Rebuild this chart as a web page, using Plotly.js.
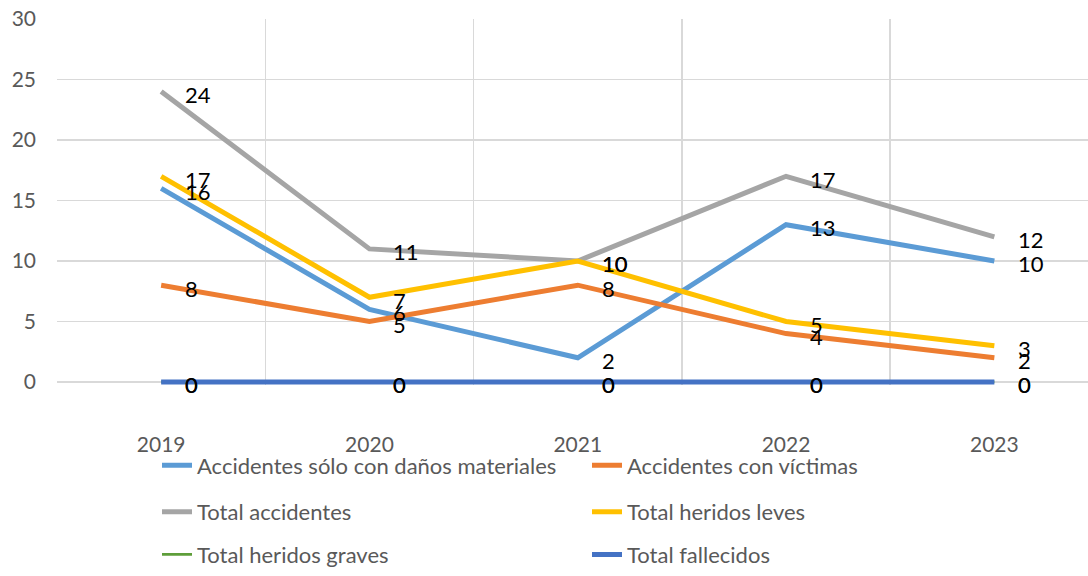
<!DOCTYPE html>
<html>
<head>
<meta charset="utf-8">
<script src="https://cdn.plot.ly/plotly-3.0.1.min.js"></script>
<style>html,body{margin:0;padding:0;background:#fff;overflow:hidden}#chart{width:1088px;height:576px}</style>
</head>
<body>
<div id="chart"></div>
<script>
const years = ['2019', '2020', '2021', '2022', '2023'];
const seriesNames = [
  'Accidentes sólo con daños materiales',
  'Accidentes con víctimas',
  'Total accidentes',
  'Total heridos leves',
  'Total heridos graves',
  'Total fallecidos'
];
const danosMateriales = [16, 6, 2, 13, 10];
const conVictimas = [8, 5, 8, 4, 2];
const totalAccidentes = [24, 11, 10, 17, 12];
const heridosLeves = [17, 7, 10, 5, 3];
const heridosGraves = [0, 0, 0, 0, 0];
const fallecidos = [0, 0, 0, 0, 0];
const yTicks = [0, 5, 10, 15, 20, 25, 30];

const values = [danosMateriales, conVictimas, totalAccidentes, heridosLeves, heridosGraves, fallecidos];
const colors = ['#5B9BD5', '#ED7D31', '#A5A5A5', '#FFC000', '#5E9E3A', '#4472C4'];
const widths = [5, 5, 5, 5, 2.75, 5];
const FONT = 'Lato, "Open Sans", sans-serif';

const plotL = 57, plotR = 1088, plotT = 19, plotB = 388;
const pw = plotR - plotL, ph = plotB - plotT;
const yMin = -0.25;
const legPix = [[157, 469], [587, 469], [157, 516], [587, 516], [157, 559], [587, 559]];

const traces = values.map((v, i) => ({
  type: 'scatter',
  mode: 'lines',
  x: years,
  y: v,
  name: seriesNames[i],
  legend: i === 0 ? 'legend' : 'legend' + (i + 1),
  line: {color: colors[i], width: widths[i]},
  hoverinfo: 'skip'
}));

// data labels: category index j on the category axis
const annotations = [];
values.forEach((v, i) => {
  v.forEach((val, j) => {
    annotations.push({
      x: j, y: val, xref: 'x', yref: 'y',
      text: String(val), showarrow: false,
      xanchor: 'left', yanchor: 'middle',
      xshift: 22, yshift: -3,
      font: {family: FONT, size: 22, color: '#000000'}
    });
  });
});

const layout = {
  width: 1088,
  height: 576,
  margin: {l: plotL, r: 0, t: plotT, b: 576 - plotB},
  paper_bgcolor: '#ffffff',
  plot_bgcolor: '#ffffff',
  font: {family: FONT, size: 21, color: '#595959'},
  showlegend: true,
  annotations: annotations,
  xaxis: {
    type: 'category',
    range: [-0.5, -0.5 + pw / 208.3],
    tickson: 'boundaries',
    showgrid: true,
    gridcolor: '#d9d9d9',
    gridwidth: 1.5,
    ticks: '',
    showline: false,
    zeroline: false,
    ticklabelstandoff: 45,
    tickfont: {family: FONT, size: 21, color: '#595959'},
    fixedrange: true
  },
  yaxis: {
    range: [yMin, 30],
    tickvals: yTicks,
    ticktext: yTicks.map(String),
    showgrid: true,
    gridcolor: '#d9d9d9',
    gridwidth: 1.5,
    zeroline: false,
    showline: false,
    ticks: '',
    ticklabelstandoff: 20,
    tickfont: {family: FONT, size: 21, color: '#595959'},
    fixedrange: true
  }
};

legPix.forEach((p, i) => {
  const key = i === 0 ? 'legend' : 'legend' + (i + 1);
  layout[key] = {
    x: (p[0] - plotL) / pw,
    y: (plotB - p[1]) / ph,
    xanchor: 'left',
    yanchor: 'middle',
    orientation: 'h',
    bgcolor: 'rgba(0,0,0,0)',
    borderwidth: 0,
    font: {family: FONT, size: 22, color: '#595959'}
  };
});

Plotly.newPlot('chart', traces, layout, {staticPlot: true, displayModeBar: false});
</script>
</body>
</html>
